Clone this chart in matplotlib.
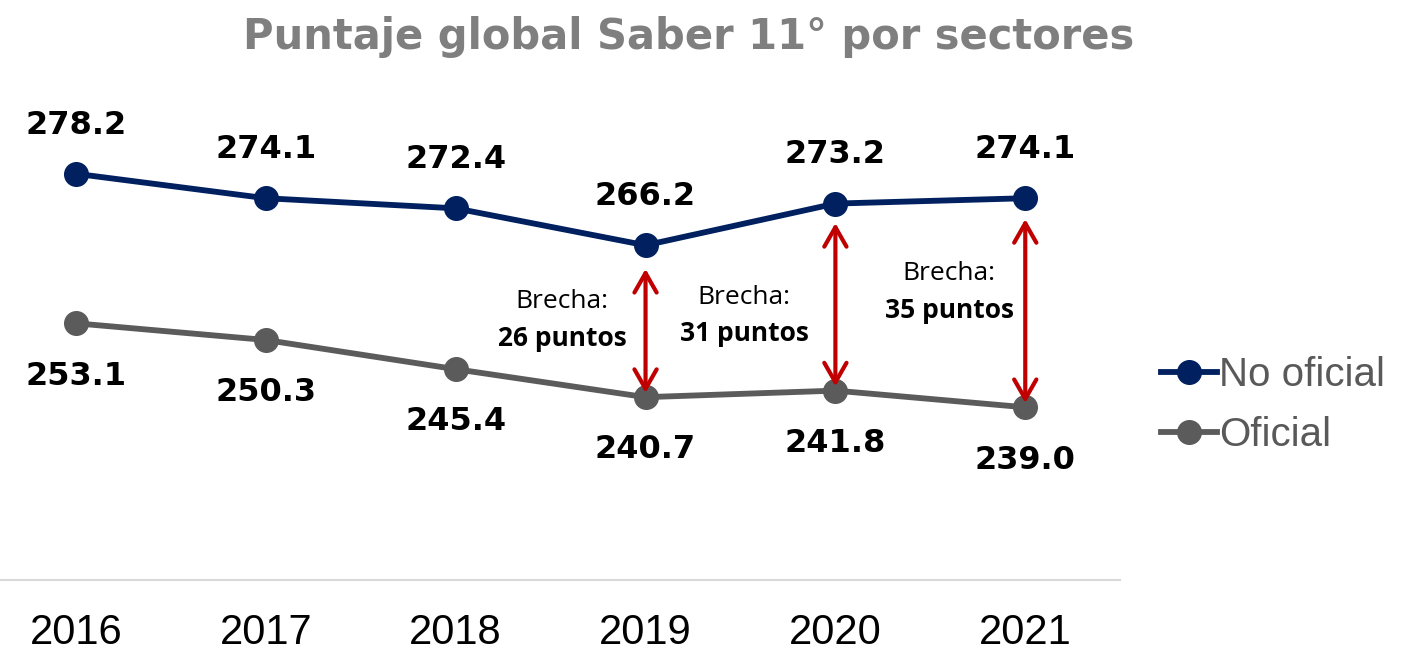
import matplotlib
matplotlib.use("Agg")
from matplotlib import pyplot as plt
from matplotlib.lines import Line2D

years = ['2016', '2017', '2018', '2019', '2020', '2021']
no_oficial = [278.2, 274.1, 272.4, 266.2, 273.2, 274.1]
oficial = [253.1, 250.3, 245.4, 240.7, 241.8, 239.0]
# gaps shown for the last three years
brecha_idx = [3, 4, 5]
brecha_txt = ['26 puntos', '31 puntos', '35 puntos']

navy = '#002060'
grey = '#5b5b5b'
red = '#c00000'

fig = plt.figure(figsize=(14.02, 6.51), dpi=100)
ax = fig.add_axes([0.0, 0.109, 0.799, 0.732])
x = list(range(len(years)))

ax.plot(x, no_oficial, color=navy, lw=4.2, marker='o', ms=17, zorder=3)
ax.plot(x, oficial, color=grey, lw=4.2, marker='o', ms=17, zorder=3)

for i in x:
    ax.annotate(f'{no_oficial[i]:.1f}', (i, no_oficial[i]), xytext=(0, 35),
                textcoords='offset points', ha='center', va='center',
                fontsize=23, fontweight='bold', color='black')
    ax.annotate(f'{oficial[i]:.1f}', (i, oficial[i]), xytext=(0, -38),
                textcoords='offset points', ha='center', va='center',
                fontsize=23, fontweight='bold', color='black')

# red double arrows for the gap
top_shrink = [17, 14, 15]
for k, i in enumerate(brecha_idx):
    ax.annotate('', xy=(i, oficial[i]), xytext=(i, no_oficial[i]),
                arrowprops=dict(arrowstyle='<->,head_length=0.7,head_width=0.4',
                                color=red, lw=3, mutation_scale=20,
                                shrinkA=top_shrink[k], shrinkB=3),
                zorder=4)

# text next to the arrows
txt_dx = [-0.44, -0.48, -0.40]
txt_dy = [14, 0, 21]
for k, i in enumerate(brecha_idx):
    mid = (no_oficial[i] + oficial[i]) / 2
    ax.annotate('Brecha:', (i + txt_dx[k], mid), xytext=(0, txt_dy[k]),
                textcoords='offset points', ha='center', va='center',
                fontsize=19, family='Open Sans', color='black')
    ax.annotate(brecha_txt[k], (i + txt_dx[k], mid), xytext=(0, txt_dy[k] - 26.5),
                textcoords='offset points', ha='center', va='center',
                fontsize=19, family='Open Sans', fontweight='bold', color='black')

ax.set_xlim(-0.4, 5.5)
ax.set_ylim(210, 290)
ax.set_xticks(x)
ax.set_xticklabels(years, fontsize=30, family='Liberation Sans')
ax.tick_params(axis='x', length=0, pad=24)
ax.set_yticks([])
for s in ['top', 'right', 'left']:
    ax.spines[s].set_visible(False)
ax.spines['bottom'].set_color('#d9d9d9')
ax.spines['bottom'].set_linewidth(1.5)

handles = [Line2D([], [], color=navy, lw=4.2, marker='o', ms=17),
           Line2D([], [], color=grey, lw=4.2, marker='o', ms=17)]
fig.legend(handles, ['No oficial', 'Oficial'], loc='center left',
           bbox_to_anchor=(0.802, 0.378), frameon=False, handlelength=1.4,
           handletextpad=0.05, labelspacing=0.55, labelcolor='#595959',
           prop={'family': 'Liberation Sans', 'size': 29})

fig.text(0.491, 0.943, 'Puntaje global Saber 11° por sectores', ha='center',
         va='center', fontsize=30, fontweight='bold', color='#7f7f7f')

plt.savefig('out.png', dpi=100)
